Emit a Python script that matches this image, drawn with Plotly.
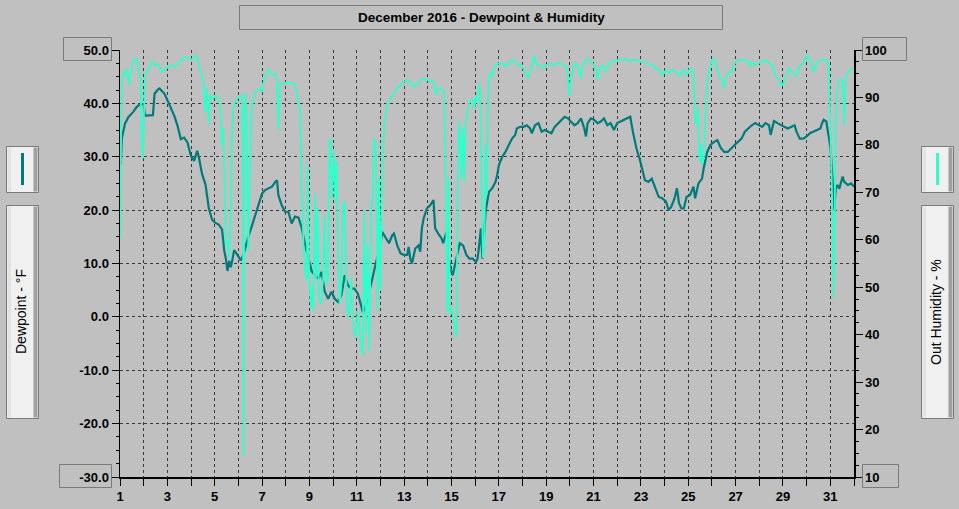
import plotly.graph_objects as go

# ---------------- data ----------------
dew_day = [1.00,1.03,1.08,1.14,1.21,1.35,1.56,1.70,1.83,2.00,2.05,2.39,2.46,2.60,2.67,2.88,3.01,3.15,3.29,3.43,
           3.57,3.71,3.85,3.99,4.13,4.26,4.33,4.47,4.61,4.75,4.89,5.03,5.17,5.31,5.40,5.47,5.54,5.61,5.68,5.75,
           5.82,5.96,6.10,6.20,6.31,6.44,6.58,6.72,6.86,7.00,7.14,7.28,7.42,7.56,7.63,7.69,7.83,7.97,8.11,8.25,
           8.39,8.54,8.68,8.82,8.96,9.10,9.24,9.38,9.51,9.65,9.79,9.93,10.07,10.21,10.35,10.49,10.63,10.76,10.90,11.04,
           11.18,11.25,11.35,11.50,11.65,11.80,11.95,12.08,12.22,12.36,12.50,12.57,12.71,12.85,12.99,13.13,13.19,13.26,13.33,13.47,
           13.61,13.68,13.75,13.82,13.96,14.10,14.24,14.31,14.44,14.58,14.65,14.79,14.86,14.95,15.05,15.20,15.35,15.49,15.63,15.76,
           15.90,16.03,16.10,16.17,16.24,16.31,16.38,16.44,16.51,16.58,16.72,16.86,16.93,17.00,17.14,17.28,17.42,17.56,17.69,17.76,
           17.90,18.04,18.18,18.32,18.39,18.53,18.67,18.81,18.94,19.08,19.22,19.36,19.50,19.64,19.78,19.92,20.06,20.19,20.33,20.47,
           20.61,20.68,20.75,20.89,21.03,21.17,21.31,21.44,21.58,21.72,21.86,22.00,22.14,22.28,22.42,22.55,22.66,22.81,22.96,23.10,
           23.17,23.32,23.46,23.61,23.75,23.91,24.06,24.17,24.28,24.42,24.52,24.61,24.71,24.81,24.93,25.07,25.22,25.29,25.43,25.58,
           25.65,25.80,25.94,26.09,26.23,26.38,26.52,26.67,26.81,26.96,27.10,27.25,27.39,27.54,27.68,27.83,27.97,28.12,28.26,28.41,
           28.48,28.62,28.77,28.91,29.06,29.20,29.35,29.49,29.57,29.71,29.86,30.00,30.14,30.29,30.43,30.58,30.65,30.72,30.83,30.87,
           30.94,31.01,31.09,31.16,31.23,31.30,31.38,31.45,31.52,31.59,31.74,31.88,32.00]
dew_val = [31.5,28.5,33.5,34.9,36.2,37.4,38.4,39.3,39.8,39.9,37.7,37.8,41.8,42.6,42.8,41.8,40.6,39.0,37.7,35.8,
           33.3,33.6,32.7,30.2,29.2,31.1,29.9,26.7,24.8,20.4,18.2,17.6,17.3,16.4,12.5,10.9,8.6,10.5,9.3,10.8,
           12.5,11.6,10.6,11.5,13.5,15.3,17.2,19.1,20.9,23.1,23.8,24.1,24.4,25.3,25.6,22.8,20.9,19.7,19.7,17.5,
           18.8,18.6,16.6,13.4,10.9,8.5,7.8,7.2,8.4,4.7,3.4,4.7,3.4,2.8,4.1,7.8,5.9,5.3,5.3,4.4,
           2.2,0.9,1.5,4.0,7.0,10.0,12.5,15.9,14.7,13.8,15.3,15.6,13.4,11.9,11.6,11.6,13.1,10.9,10.0,12.8,
           13.4,12.2,16.6,18.4,20.3,20.9,21.9,16.6,15.6,14.7,13.8,15.9,12.2,9.0,7.8,11.0,13.8,13.4,11.6,10.9,
           10.9,10.3,10.9,13.4,16.6,10.9,15.0,19.7,21.6,23.4,24.1,25.3,26.6,28.4,30.0,30.9,32.2,33.4,34.1,35.3,
           35.6,35.6,35.9,35.3,34.4,35.9,36.3,34.7,35.0,34.7,34.4,35.6,36.3,36.9,37.5,37.2,36.6,35.9,36.3,37.2,
           35.3,33.8,36.3,37.2,36.9,36.3,36.6,37.2,35.9,36.3,35.0,36.3,36.6,36.9,37.2,37.5,34.7,31.6,29.4,27.2,
           25.6,25.3,25.9,24.1,22.5,22.2,21.6,20.0,20.6,22.2,24.1,21.3,20.3,20.3,22.5,22.8,24.4,22.2,25.0,25.9,
           27.8,30.9,32.2,32.8,33.1,31.6,30.9,30.9,31.6,32.2,32.8,33.4,34.7,35.3,35.9,36.3,35.9,35.6,36.3,35.9,
           34.1,36.7,36.3,35.9,35.6,35.3,35.6,35.9,34.7,33.4,33.4,33.8,34.4,34.7,35.0,35.3,36.3,36.9,36.6,35.3,
           33.1,31.6,25.9,20.0,24.1,24.7,24.0,25.3,26.3,25.3,24.7,25.0,24.4]

hum_day = [1.00,1.01,1.05,1.10,1.17,1.24,1.31,1.38,1.44,1.51,1.58,1.65,1.72,1.79,1.86,1.93,1.97,2.03,2.07,2.21,
           2.35,2.49,2.63,2.76,2.90,3.04,3.18,3.31,3.46,3.60,3.74,3.88,4.01,4.15,4.22,4.29,4.43,4.53,4.61,4.67,
           4.75,4.81,4.92,5.06,5.19,5.26,5.31,5.36,5.42,5.47,5.54,5.61,5.68,5.72,5.78,5.86,5.96,6.06,6.14,6.19,
           6.22,6.25,6.31,6.36,6.42,6.47,6.53,6.61,6.72,6.86,7.00,7.07,7.17,7.28,7.42,7.56,7.63,7.69,7.76,7.90,
           8.11,8.25,8.40,8.47,8.54,8.61,8.68,8.75,8.82,8.89,8.93,8.99,9.07,9.13,9.17,9.24,9.28,9.35,9.40,9.49,
           9.58,9.65,9.72,9.79,9.86,9.90,9.96,10.04,10.10,10.15,10.21,10.28,10.35,10.42,10.49,10.56,10.63,10.69,10.76,10.83,
           10.90,10.97,11.04,11.11,11.18,11.25,11.32,11.39,11.46,11.53,11.60,11.67,11.74,11.81,11.88,11.94,11.99,12.01,12.06,12.10,
           12.15,12.22,12.29,12.43,12.57,12.71,12.85,12.99,13.13,13.26,13.40,13.54,13.68,13.82,13.96,14.10,14.24,14.35,14.44,14.58,
           14.68,14.75,14.82,14.88,14.93,15.00,15.07,15.14,15.21,15.26,15.31,15.38,15.42,15.49,15.54,15.60,15.68,15.76,15.90,15.97,
           16.04,16.10,16.17,16.21,16.24,16.28,16.33,16.39,16.44,16.49,16.53,16.58,16.65,16.72,16.79,16.86,17.00,17.14,17.28,17.42,
           17.56,17.69,17.83,17.97,18.11,18.22,18.32,18.39,18.50,18.60,18.74,18.88,19.01,19.15,19.29,19.43,19.57,19.71,19.85,19.92,
           19.97,20.03,20.13,20.19,20.33,20.47,20.54,20.68,20.82,20.96,21.10,21.17,21.24,21.38,21.51,21.65,21.79,21.93,22.07,22.21,
           22.35,22.49,22.63,22.76,22.96,23.10,23.25,23.39,23.54,23.68,23.77,23.91,24.06,24.20,24.35,24.49,24.64,24.78,24.93,25.07,
           25.17,25.22,25.26,25.30,25.36,25.41,25.45,25.48,25.54,25.58,25.65,25.70,25.75,25.80,25.87,25.94,26.01,26.09,26.16,26.23,
           26.30,26.38,26.45,26.52,26.59,26.67,26.74,26.81,26.88,26.96,27.10,27.25,27.39,27.54,27.61,27.68,27.83,27.97,28.12,28.26,
           28.41,28.55,28.70,28.84,28.91,29.01,29.13,29.28,29.42,29.57,29.71,29.86,30.00,30.07,30.14,30.29,30.43,30.58,30.72,30.87,
           30.94,30.99,31.04,31.09,31.13,31.17,31.22,31.28,31.33,31.39,31.45,31.52,31.59,31.64,31.71,31.81,31.88,32.00]
hum_val = [68.8,60.4,84.9,94.0,95.4,94.7,96.1,92.6,94.7,96.8,97.9,98.2,97.9,95.4,94.0,80.0,77.2,89.8,94.7,96.1,
           97.5,96.8,97.0,95.4,95.8,96.5,96.8,96.5,97.2,97.9,98.6,98.2,97.9,98.6,98.9,97.5,94.7,93.3,87.0,92.0,
           84.2,90.5,89.8,90.5,89.5,85.6,80.0,83.5,73.0,59.0,59.7,56.2,66.0,80.0,87.0,89.1,89.8,90.2,90.5,80.0,
           14.6,87.0,90.9,80.0,57.6,69.5,85.6,89.1,91.2,91.9,91.2,93.3,95.1,95.8,94.7,95.0,94.0,83.2,92.6,93.0,
           93.2,93.0,92.6,90.5,88.4,87.0,70.2,59.0,53.4,51.3,75.8,52.0,45.7,50.6,45.0,69.5,52.0,66.7,47.8,46.4,
           52.0,65.3,50.6,52.0,80.7,81.4,68.8,78.6,68.1,76.5,57.6,46.4,50.6,67.4,68.1,50.6,43.6,45.0,52.0,42.9,
           40.8,39.4,45.0,40.5,38.0,35.6,66.0,40.1,59.0,36.6,66.0,69.5,81.4,80.0,45.0,73.0,49.2,56.2,73.0,77.2,
           84.2,87.0,88.8,89.8,90.9,91.9,92.6,93.3,93.7,93.3,92.3,92.6,93.7,94.0,93.7,93.5,93.3,90.5,91.9,91.9,
           91.2,77.9,45.0,73.0,44.3,45.7,43.6,41.5,39.4,69.5,84.9,81.4,73.0,83.5,72.3,84.9,87.0,89.1,89.8,87.7,
           90.2,89.1,93.0,91.0,80.0,67.4,56.2,59.0,80.0,69.5,87.0,94.7,95.1,94.4,96.1,96.8,97.2,97.2,96.5,97.2,
           97.9,97.5,96.8,96.8,95.4,94.0,95.4,96.5,98.9,96.8,96.8,96.1,96.8,97.2,96.8,97.2,97.2,96.8,96.5,94.7,
           90.2,93.3,95.4,97.2,96.8,94.0,96.8,97.9,97.9,97.2,96.1,93.7,96.1,96.8,95.4,97.2,97.5,97.9,97.9,97.9,
           98.1,97.7,97.9,97.9,97.5,97.5,97.2,96.8,96.5,95.8,95.8,94.7,95.8,95.1,95.8,95.4,94.4,95.8,94.7,96.1,
           95.8,95.1,88.4,84.9,84.2,87.7,80.0,76.5,80.0,75.8,77.2,84.2,88.4,93.3,95.4,96.8,97.9,98.2,97.2,95.8,
           94.7,94.0,93.7,91.9,94.0,95.1,95.4,95.1,96.1,97.2,97.9,97.9,97.9,97.5,96.5,97.5,96.8,97.2,97.5,97.9,
           97.2,96.8,94.4,93.7,92.6,92.6,94.7,96.1,95.1,94.4,96.8,97.2,98.6,98.9,97.9,95.4,97.2,97.9,97.9,97.9,
           96.1,86.0,80.0,66.0,47.8,56.2,83.5,90.5,92.6,93.3,94.0,93.3,84.2,92.6,95.1,95.4,95.8,96.1]

x_tick_vals = list(range(1, 33))
x_tick_text = [str(d) if d % 2 == 1 and d <= 31 else "" for d in x_tick_vals]
dew_ticks = [-30, -20, -10, 0, 10, 20, 30, 40, 50]
dew_tick_text = ["%.1f" % v for v in dew_ticks]
hum_ticks = [10, 20, 30, 40, 50, 60, 70, 80, 90, 100]

TITLE = "December 2016 - Dewpoint & Humidity"
LEFT_TITLE = "Dewpoint - °F"
RIGHT_TITLE = "Out Humidity - %"

# ---------------- style ----------------
BG = "#c0c0c0"
TEAL = "#007b7b"
CYAN = "#2effcc"
GRID = "#3a3a3a"
FONT = "Liberation Sans"

W, H = 959, 509
PL, PR, PT, PB = 120, 854, 50, 477


def xp(x):
    return (x - PL) / (PR - PL)


def yp(y):
    return (PB - y) / (PB - PT)


fig = go.Figure()
fig.add_trace(go.Scatter(x=dew_day, y=dew_val, mode="lines",
                         line=dict(color=TEAL, width=2.2), yaxis="y", hoverinfo="skip"))
fig.add_trace(go.Scatter(x=hum_day, y=hum_val, mode="lines",
                         line=dict(color=CYAN, width=1.8), yaxis="y2", hoverinfo="skip"))

tickfont = dict(family=FONT, size=13, color="black", weight="bold")

fig.update_layout(
    width=W, height=H,
    margin=dict(l=PL, r=W - PR, t=PT, b=H - PB, pad=0, autoexpand=False),
    paper_bgcolor=BG, plot_bgcolor=BG,
    showlegend=False,
    hovermode=False,
    xaxis=dict(range=[1, 32], tickvals=x_tick_vals, ticktext=x_tick_text,
               ticks="outside", ticklen=7, tickcolor="black", tickwidth=1,
               showline=True, linecolor="black", linewidth=1.5,
               showgrid=True, gridcolor=GRID, griddash="3px,3px", gridwidth=1,
               zeroline=False, tickfont=tickfont, fixedrange=True),
    yaxis=dict(range=[-30, 50], tickvals=dew_ticks, ticktext=dew_tick_text,
               ticks="outside", ticklen=7, tickcolor="black", tickwidth=1,
               showline=True, linecolor="black", linewidth=1.5,
               showgrid=True, gridcolor=GRID, griddash="3px,3px", gridwidth=1,
               zeroline=False, tickfont=tickfont, fixedrange=True,
               minor=dict(tick0=-30, dtick=2.5, ticks="outside", ticklen=3,
                          tickcolor="black", showgrid=False)),
    yaxis2=dict(range=[10, 100], tickvals=hum_ticks, overlaying="y", side="right",
                ticks="outside", ticklen=7, tickcolor="black", tickwidth=1,
                showline=True, linecolor="black", linewidth=1.5,
                showgrid=False, zeroline=False, tickfont=tickfont, fixedrange=True,
                minor=dict(tick0=10, dtick=2.5, ticks="outside", ticklen=3,
                           tickcolor="black", showgrid=False)),
)

shapes = []
annotations = []


def rect(x0, y0, x1, y1, line="#7a7a7a", fill=None, lw=1):
    shapes.append(dict(type="rect", xref="paper", yref="paper",
                       x0=xp(x0), x1=xp(x1), y0=yp(y1), y1=yp(y0),
                       line=dict(color=line, width=lw),
                       fillcolor=fill if fill else "rgba(0,0,0,0)", layer="above"))


def button(x0, y0, x1, y1):
    rect(x0, y0, x1, y1, line="#7a7a7a", fill="#f0f0f0")
    rect(x0 + 1, y0 + 1, x0 + 4.5, y1 - 1, line="rgba(0,0,0,0)", fill="#e2e2e2", lw=0)
    rect(x1 - 5, y0 + 1, x1 - 1, y1 - 1, line="rgba(0,0,0,0)", fill="#a0a0a0", lw=0)


# title box
rect(239.5, 5.5, 722.5, 29.5)
annotations.append(dict(xref="paper", yref="paper", x=xp(481), y=yp(17.5),
                        text="<b>%s</b>" % TITLE, showarrow=False,
                        font=dict(family=FONT, size=13.5, color="black"),
                        xanchor="center", yanchor="middle"))

# legend swatch buttons
button(6.5, 146.5, 38.5, 192.5)
shapes.append(dict(type="line", xref="paper", yref="paper", x0=xp(22.5), x1=xp(22.5),
                   y0=yp(185), y1=yp(153), line=dict(color=TEAL, width=3), layer="above"))
button(921.5, 146.5, 953.5, 192.5)
shapes.append(dict(type="line", xref="paper", yref="paper", x0=xp(937.5), x1=xp(937.5),
                   y0=yp(185), y1=yp(153), line=dict(color=CYAN, width=3), layer="above"))

# axis title buttons
button(6.5, 205.5, 38.5, 418.5)
annotations.append(dict(xref="paper", yref="paper", x=xp(21), y=yp(312),
                        text=LEFT_TITLE, textangle=-90, showarrow=False,
                        font=dict(family=FONT, size=14, color="black"),
                        xanchor="center", yanchor="middle"))
button(921.5, 205.5, 953.5, 418.5)
annotations.append(dict(xref="paper", yref="paper", x=xp(936), y=yp(312),
                        text=RIGHT_TITLE, textangle=-90, showarrow=False,
                        font=dict(family=FONT, size=14, color="black"),
                        xanchor="center", yanchor="middle"))

# end-label boxes
rect(63.5, 37.5, 111.5, 60.5)
rect(59.5, 464.5, 111.5, 487.5)
rect(862.5, 37.5, 906.5, 60.5)
rect(862.5, 464.5, 898.5, 487.5)

fig.update_layout(shapes=shapes, annotations=annotations)
fig.write_html(
    "out.html",
    config={"displayModeBar": False, "staticPlot": True},
    post_script="document.body.style.margin='0';document.body.style.background='%s';"
                "document.body.style.overflow='hidden';" % BG,
)
